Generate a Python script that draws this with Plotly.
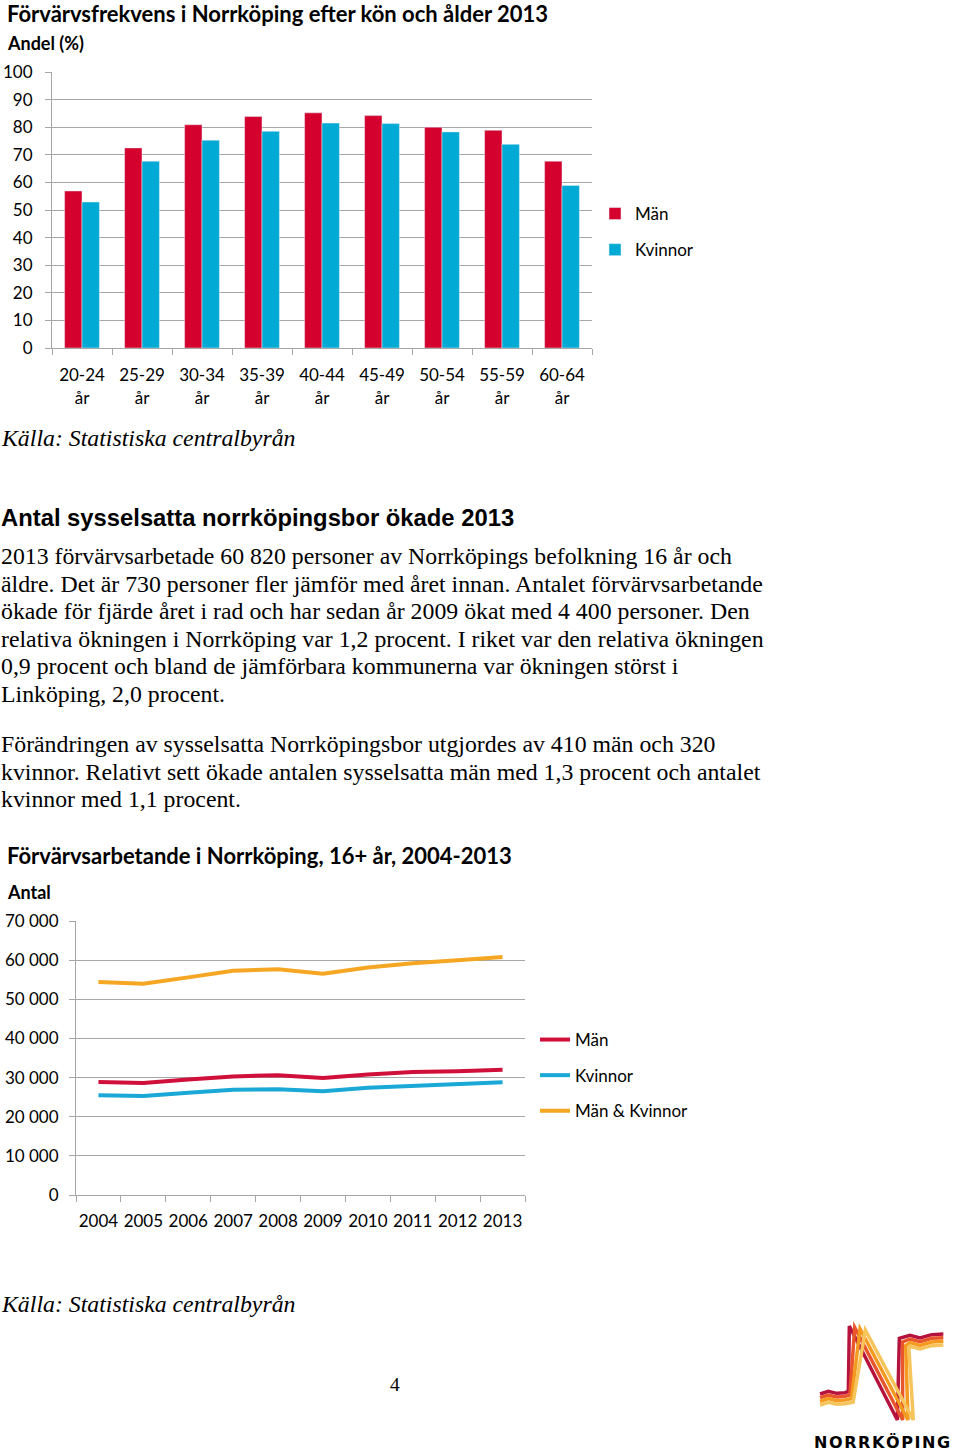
import plotly.graph_objects as go

# ---------------- data ----------------
age_groups = ["20-24<br>år", "25-29<br>år", "30-34<br>år", "35-39<br>år", "40-44<br>år",
              "45-49<br>år", "50-54<br>år", "55-59<br>år", "60-64<br>år"]
man_pct = [56.9, 72.5, 80.9, 83.9, 85.2, 84.2, 80.0, 78.9, 67.7]
kvinnor_pct = [52.9, 67.7, 75.3, 78.5, 81.5, 81.3, 78.3, 73.8, 58.9]

years = ["2004", "2005", "2006", "2007", "2008", "2009", "2010", "2011", "2012", "2013"]
man_antal = [28900, 28600, 29500, 30300, 30600, 29900, 30800, 31400, 31600, 32000]
kvinnor_antal = [25500, 25300, 26100, 26900, 27000, 26500, 27400, 27900, 28400, 28800]
totalt_antal = [54400, 54000, 55600, 57300, 57700, 56500, 58100, 59200, 60000, 60820]

W, H = 960, 1456
def px(x):
    return x / W
def py(y):
    return 1 - y / H

RED = "#d4002d"
BLUE = "#00aad4"
ORANGE = "#f5a623"
GRID = "#a6a6a6"
TICKFONT = dict(family="Lato, Carlito, sans-serif", size=17, color="#000")

fig = go.Figure()

fig.add_trace(go.Bar(x=age_groups, y=man_pct, name="Män", marker_color=RED,
                     xaxis="x", yaxis="y", legend="legend", legendgroup="a"))
fig.add_trace(go.Bar(x=age_groups, y=kvinnor_pct, name="Kvinnor", marker_color=BLUE,
                     xaxis="x", yaxis="y", legend="legend", legendgroup="b"))

fig.add_trace(go.Scatter(x=years, y=man_antal, name="Män", mode="lines",
                         line=dict(color="#d0103a", width=4),
                         xaxis="x2", yaxis="y2", legend="legend2", legendgroup="c"))
fig.add_trace(go.Scatter(x=years, y=kvinnor_antal, name="Kvinnor", mode="lines",
                         line=dict(color="#1aa8d6", width=4),
                         xaxis="x2", yaxis="y2", legend="legend2", legendgroup="d"))
fig.add_trace(go.Scatter(x=years, y=totalt_antal, name="Män & Kvinnor", mode="lines",
                         line=dict(color=ORANGE, width=4),
                         xaxis="x2", yaxis="y2", legend="legend2", legendgroup="e"))

axis_common = dict(showline=True, linecolor=GRID, linewidth=1, ticks="outside",
                   tickcolor=GRID, ticklen=6, tickfont=TICKFONT, zeroline=False,
                   automargin=False)

annotations = []
def text(x, y, s, size=23.8, family="Liberation Serif, Times New Roman, serif",
         bold=False, italic=False, xanchor="left"):
    if bold:
        s = "<b>" + s + "</b>"
    if italic:
        s = "<i>" + s + "</i>"
    annotations.append(dict(x=px(x), y=py(y), xref="paper", yref="paper", text=s,
                            showarrow=False, xanchor=xanchor, yanchor="middle",
                            font=dict(family=family, size=size, color="#000")))

CAL = "Lato, Carlito, sans-serif"
SANS = "Liberation Sans, Arial, sans-serif"

text(5, 13.5, "Förvärvsfrekvens i Norrköping efter kön och ålder 2013", size=22, family=CAL, bold=True)
text(5, 43, "Andel (%)", size=18, family=CAL, bold=True)
text(-1, 438, "Källa: Statistiska centralbyrån", italic=True)
text(-1, 517, "Antal sysselsatta norrköpingsbor ökade 2013", size=23.8, family=SANS, bold=True)

para1 = [
    "2013 förvärvsarbetade 60 820 personer av Norrköpings befolkning 16 år och",
    "äldre. Det är 730 personer fler jämför med året innan. Antalet förvärvsarbetande",
    "ökade för fjärde året i rad och har sedan år 2009 ökat med 4 400 personer. Den",
    "relativa ökningen i Norrköping var 1,2 procent. I riket var den relativa ökningen",
    "0,9 procent och bland de jämförbara kommunerna var ökningen störst i",
    "Linköping, 2,0 procent.",
]
for i, line in enumerate(para1):
    text(-1, 556 + 27.5 * i, line)
para2 = [
    "Förändringen av sysselsatta Norrköpingsbor utgjordes av 410 män och 320",
    "kvinnor. Relativt sett ökade antalen sysselsatta män med 1,3 procent och antalet",
    "kvinnor med 1,1 procent.",
]
for i, line in enumerate(para2):
    text(-1, 744 + 27.5 * i, line)

text(5, 855, "Förvärvsarbetande i Norrköping, 16+ år, 2004-2013", size=22, family=CAL, bold=True)
text(5, 892, "Antal", size=18, family=CAL, bold=True)
text(-1, 1304, "Källa: Statistiska centralbyrån", italic=True)
text(395, 1384, "4", size=19.5, xanchor="center")
text(882, 1442, "\u200a".join("NORRKÖPING"), size=16,
     family="DejaVu Sans, sans-serif", bold=True, xanchor="center")

# ---- logo (decorative) ----
shapes = []
def lpath(points):
    s = ""
    for i, (x, y) in enumerate(points):
        xx = 800 + x / 3
        yy = 1310 + y / 3
        s += ("M" if i == 0 else " L") + f"{px(xx):.5f},{py(yy):.5f}"
    return s

logo_cols = ["#b5123e", "#e9562b", "#f39a1f", "#f6c45a"]
for i, c in enumerate(logo_cols):
    dx = 16 * i
    dy = 11 * i
    pts = [(60, 252 + dy), (85, 244 + dy), (110, 250 + dy), (135, 246 + dy + 2),
           (145 + dx * 0.3, 244 + dy), (148 + dx, 48 + 4 * i),
           (292 + dx, 330), (298 + dx * 0.6, 85 + dy),
           (330, 76 + dy), (360, 84 + dy), (395, 74 + dy), (430, 72 + dy)]
    shapes.append(dict(type="path", path=lpath(pts), xref="paper", yref="paper",
                       line=dict(color=c, width=3.5)))

fig.update_layout(
    width=W, height=H, margin=dict(l=0, r=0, t=0, b=0, autoexpand=False),
    paper_bgcolor="white", plot_bgcolor="white",
    separators=", ",
    barmode="group", bargap=0.42, bargroupgap=0.0,
    xaxis=dict(domain=[px(52), px(592)], anchor="y", type="category",
               tickson="boundaries", showgrid=False, tickangle=0,
               ticklabelstandoff=12, range=[-0.5, 8.5], **axis_common),
    yaxis=dict(domain=[py(348), py(72)], anchor="x", range=[0, 100], dtick=10,
               showgrid=True, gridcolor=GRID, ticklabelstandoff=9, **axis_common),
    xaxis2=dict(domain=[px(76), px(525)], anchor="y2", type="category",
                tickson="boundaries", showgrid=False, tickangle=0,
                ticklabelstandoff=11, range=[-0.5, 9.5], **axis_common),
    yaxis2=dict(domain=[py(1195), py(921)], anchor="x2", range=[0, 70000], dtick=10000,
                tickformat=",d", showgrid=True, gridcolor=GRID, ticklabelstandoff=7,
                **axis_common),
    legend=dict(x=px(595), y=py(196), xanchor="left", yanchor="top",
                font=TICKFONT, tracegroupgap=11, bgcolor="rgba(0,0,0,0)"),
    legend2=dict(x=px(535), y=py(1022), xanchor="left", yanchor="top",
                 font=TICKFONT, tracegroupgap=10.5, bgcolor="rgba(0,0,0,0)"),
    annotations=annotations,
    shapes=shapes,
)

fig.write_html("out.html", config={"displayModeBar": False},
               post_script="document.body.style.margin='0px';document.body.style.overflow='hidden';")
